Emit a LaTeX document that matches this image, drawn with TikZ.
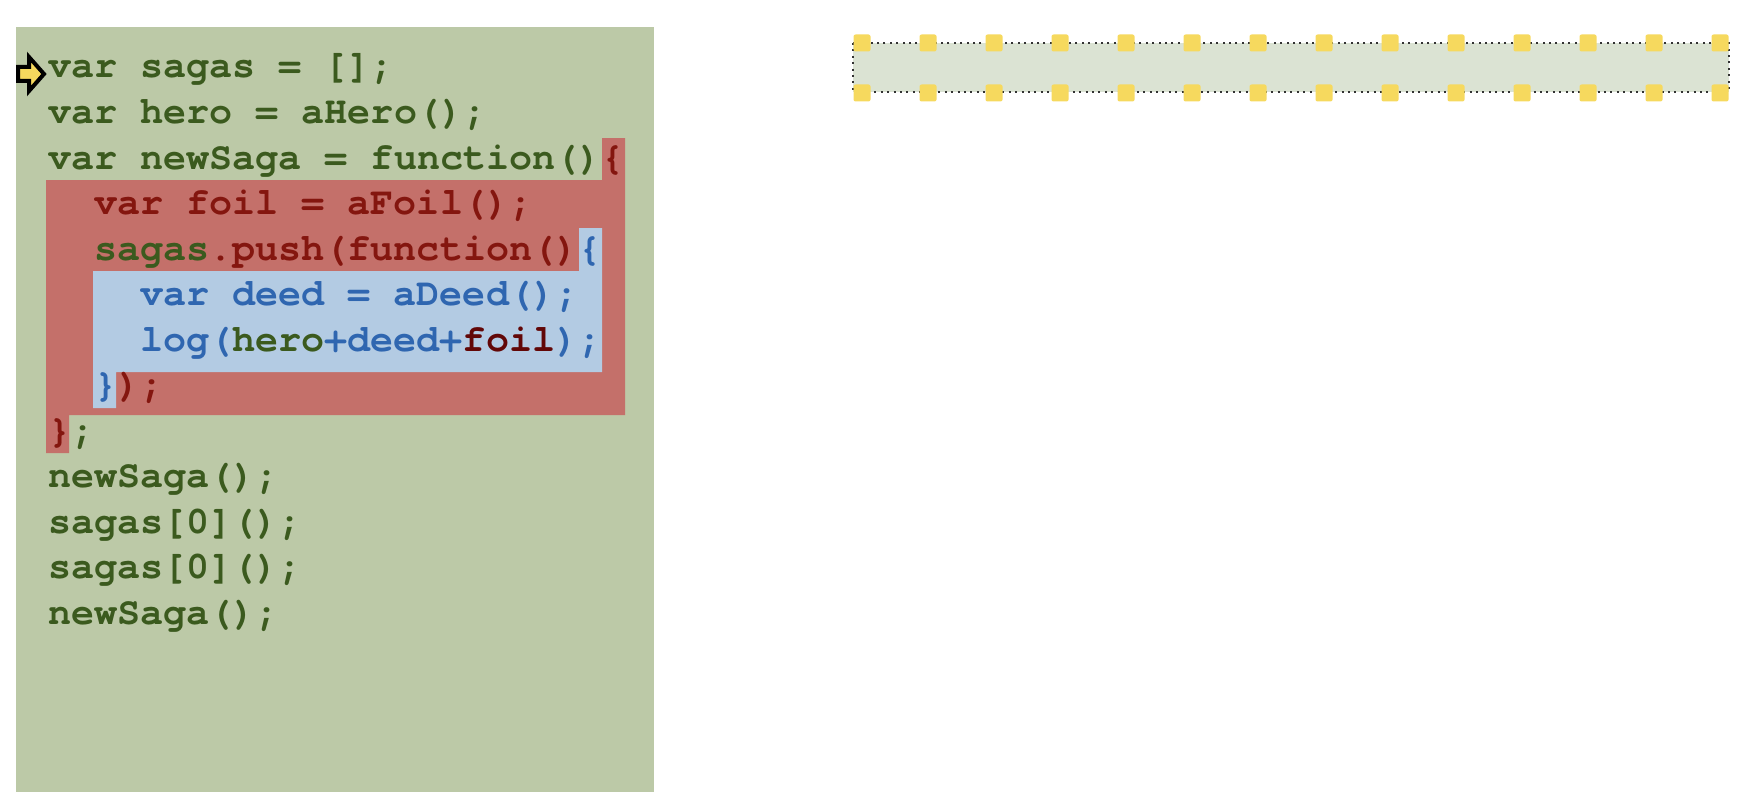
\documentclass[tikz,border=0pt]{standalone}
\usepackage{fontspec}
\usepackage{xcolor}
\usetikzlibrary{positioning}

\newfontfamily\codefont[WordSpace={1,0,0}]{texgyrecursor-bold.otf}

\definecolor{panelgreen}{HTML}{BCC9A7}
\definecolor{codegreen}{HTML}{3B5A1E}
\definecolor{hlred}{HTML}{C4706A}
\definecolor{codered}{HTML}{84160F}
\definecolor{hlblue}{HTML}{B3CBE3}
\definecolor{codeblue}{HTML}{2F66B0}
\definecolor{foilred}{HTML}{620707}
\definecolor{stripfill}{HTML}{DBE3D3}
\definecolor{slotyellow}{HTML}{F6D95E}

\tikzset{
  codeline/.style={anchor=base west, inner sep=0pt, text=codegreen,
    font=\codefont\fontsize{19.2}{23}\selectfont},
  slot/.style={fill=slotyellow, minimum size=8.5pt, inner sep=0pt, rounded corners=1pt},
  stripline/.style={fill=stripfill, draw=black!80, line width=1pt,
    dash pattern=on 1pt off 2.2pt}
}

\begin{document}
\begin{tikzpicture}[x=0.5pt, y=-0.5pt]
                \useasboundingbox (0,0) rectangle (1764,792);

                % Code panel
                \fill[panelgreen] (16,27) rectangle (654,792);
                \fill[hlred] (602,138) -- (625,138) -- (625,415) -- (69,415) -- (69,453)
                    -- (46,453) -- (46,180) -- (602,180) -- cycle; % outer function
                \fill[hlblue] (579,228) -- (602,228) -- (602,372) -- (116,372) -- (116,408)
                    -- (93,408) -- (93,271) -- (579,271) -- cycle; % inner function

                % Code lines
                \node[codeline] (l1) at (48,78) {var sagas = [];};
                \node[codeline] (l2) at (48,123.5) {var hero = aHero();};
                \node[codeline] (l3) at (48,169) {var newSaga = function()\textcolor{codered}{\{}};
                \node[codeline, text=codered] (l4) at (94,214.5) {var foil = aFoil();};
                \node[codeline, text=codered] (l5) at (94,260) {\textcolor{codegreen}{sagas}.push(function()\textcolor{codeblue}{\{}};
                \node[codeline, text=codeblue] (l6) at (140,305.5) {var deed = aDeed();};
                \node[codeline, text=codeblue] (l7) at (140,351) {log(\textcolor{codegreen}{hero}+deed+\textcolor{foilred}{foil});};
                \node[codeline, text=codeblue] (l8) at (94,396.5) {\}\textcolor{codered}{);}};
                \node[codeline, text=codered] (l9) at (48,442) {\}\textcolor{codegreen}{;}};
                \node[codeline] (l10) at (48,487.5) {newSaga();};
                \node[codeline] (l11) at (48,533) {sagas[0]();};
                \node[codeline] (l12) at (48,578.5) {sagas[0]();};
                \node[codeline] (l13) at (48,624) {newSaga();};

                % Current line marker
                \draw[fill=slotyellow, line width=2pt, line join=miter]
                    (18,67) -- (29,67) -- (29,57) -- (44,74) -- (29,91) -- (29,81) -- (18,81) -- cycle;

                % Slot strip
                \draw[stripline] (853,43) rectangle (1729,92);
                \foreach \i in {0,...,13} {
                    \node[slot] (t\i) at (862+66*\i,43) {};
                    \node[slot] (b\i) at (862+66*\i,93) {};
                }
            \end{tikzpicture}
\end{document}
